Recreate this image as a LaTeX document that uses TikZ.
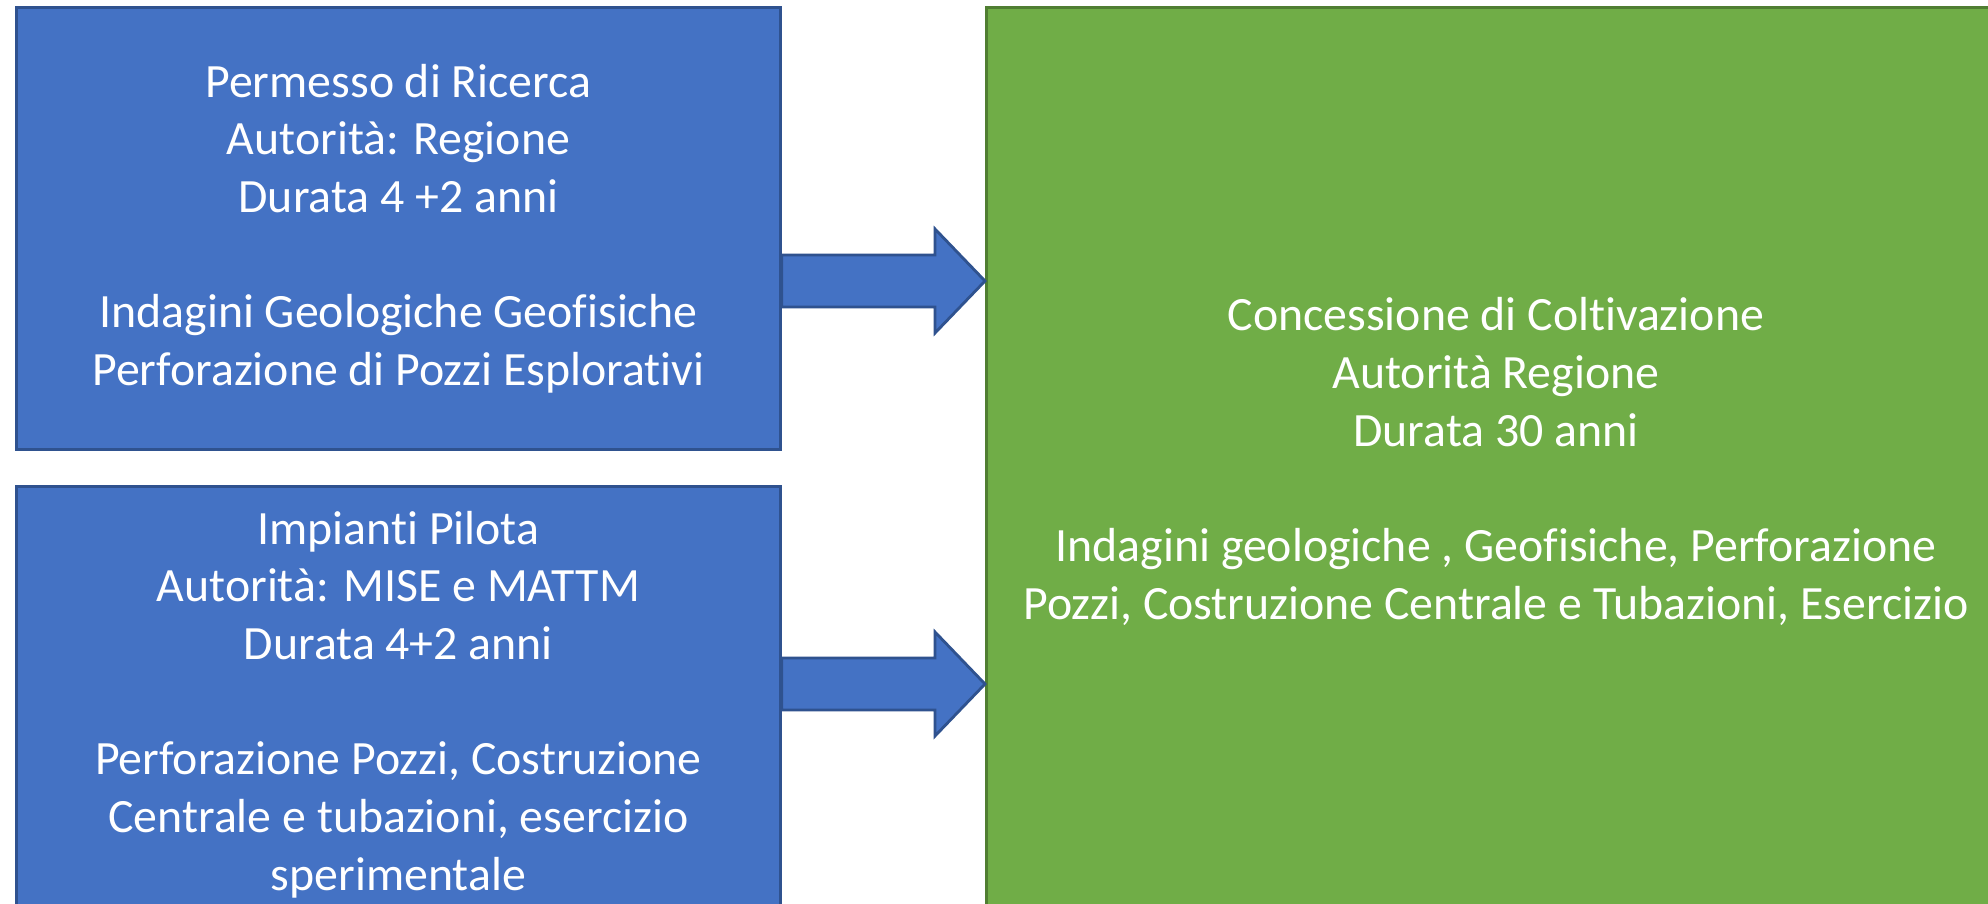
\documentclass[tikz,border=0pt]{standalone}
\usepackage{fontspec}
\setmainfont{Carlito}[RawFeature={-liga;-clig;-calt}]
\usetikzlibrary{calc}

\definecolor{bluefill}{HTML}{4472C4}
\definecolor{blueline}{HTML}{2F528F}
\definecolor{greenfill}{HTML}{70AD47}
\definecolor{greenline}{HTML}{507E32}

\tikzset{
  box/.style={rectangle, inner sep=0pt, line width=0.8pt, text=white, align=center, anchor=north west,
    font=\fontsize{13.6}{16.4}\selectfont},
  bluebox/.style={box, draw=blueline, fill=bluefill, minimum width=76.4mm},
  greenbox/.style={box, draw=greenline, fill=greenfill, minimum width=101.9mm, minimum height=90.8mm},
  freccia/.style={draw=blueline, fill=bluefill, line width=0.8pt, line join=miter}
}

\newcommand{\blockarrow}[2]{%
  \path[freccia] ($(#1)+(0,2.6mm)$) -- ($(#2)+(-5mm,2.6mm)$) -- ($(#2)+(-5mm,5.2mm)$) -- (#2)
    -- ($(#2)+(-5mm,-5.2mm)$) -- ($(#2)+(-5mm,-2.6mm)$) -- ($(#1)+(0,-2.6mm)$) -- cycle;}

\begin{document}
\begin{tikzpicture}[x=0.1mm, y=-0.1mm]
\clip (0,0) rectangle (1988,903);
\fill[white] (0,0) rectangle (1988,903);

\node[bluebox, minimum height=44.2mm] (ricerca) at (15,6) {Permesso di Ricerca\\ Autorità: Regione\\ Durata 4 +2 anni\\ \mbox{}\\ Indagini Geologiche Geofisiche\\ Perforazione di Pozzi Esplorativi};
\node[bluebox, minimum height=43.6mm] (pilota) at (15,485) {Impianti Pilota\\ Autorità: MISE e MATTM\\ Durata 4+2 anni\\ \mbox{}\\ Perforazione Pozzi, Costruzione\\ Centrale e tubazioni, esercizio\\ sperimentale};
\node[greenbox] (coltivazione) at (985,6) {Concessione di Coltivazione\\ Autorità Regione\\ Durata 30 anni\\ \mbox{}\\ Indagini geologiche , Geofisiche, Perforazione\\ Pozzi, Costruzione Centrale e Tubazioni, Esercizio};

\coordinate (asse1) at (0,281);
\coordinate (asse2) at (0,684);
\coordinate (coda1) at (ricerca.east |- asse1);
\coordinate (punta1) at (coltivazione.west |- asse1);
\coordinate (coda2) at (pilota.east |- asse2);
\coordinate (punta2) at (coltivazione.west |- asse2);
\blockarrow{coda1}{punta1}
\blockarrow{coda2}{punta2}
\end{tikzpicture}
\end{document}
